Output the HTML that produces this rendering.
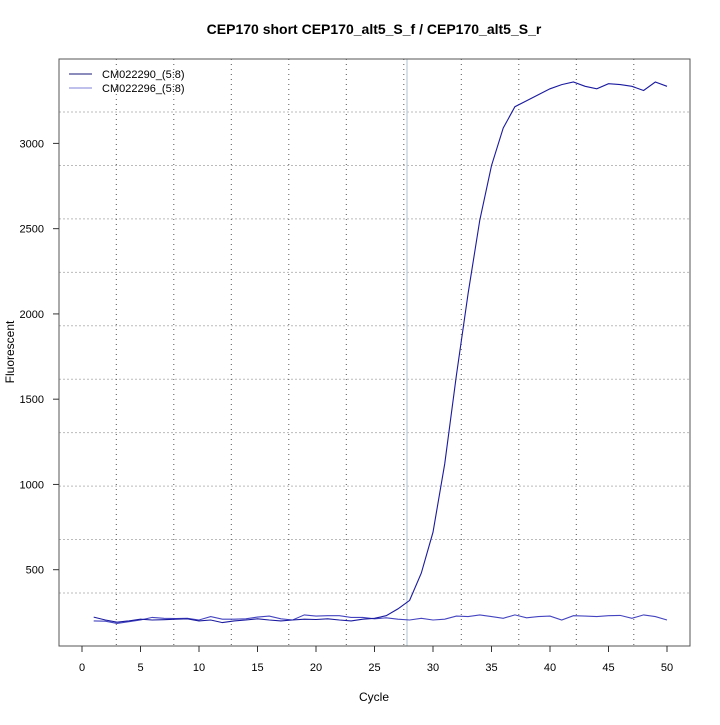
<!DOCTYPE html>
<html><head><meta charset="utf-8"><style>
body{margin:0;background:#fff;}
text{font-family:"Liberation Sans",sans-serif;}
</style></head><body>
<svg id="s" width="720" height="720" xmlns="http://www.w3.org/2000/svg">
<rect width="720" height="720" fill="#fff"/>
<text x="374" y="34" font-size="14" font-weight="bold" text-anchor="middle">CEP170 short CEP170_alt5_S_f / CEP170_alt5_S_r</text>
<g id="grid"></g>
<line x1="407" y1="59" x2="407" y2="646" stroke="#bbcfd8" stroke-width="1.2"/>
<g id="series"></g>
<rect x="59" y="59" width="631" height="587" fill="none" stroke="#555" stroke-width="1"/>
<g id="axes" font-size="11"></g>
<text x="374" y="701" font-size="12" text-anchor="middle">Cycle</text>
<text x="14" y="352" font-size="12" text-anchor="middle" transform="rotate(-90 14 352)">Fluorescent</text>
<line x1="69" y1="74" x2="92" y2="74" stroke="#1a1a7a"/>
<line x1="69" y1="88" x2="92" y2="88" stroke="#8080d8"/>
<text x="102" y="78" font-size="11">CM022290_(5:8)</text>
<text x="102" y="92" font-size="11">CM022296_(5:8)</text>
</svg>
<script>
var NS="http://www.w3.org/2000/svg";
function el(p,t,a,txt){var e=document.createElementNS(NS,t);for(var k in a)e.setAttribute(k,a[k]);if(txt!=null)e.textContent=txt;document.getElementById(p).appendChild(e);}
function X(c){return 82+c*11.7;}
function Y(v){return 569.7-(v-500)*0.17052;}
for(var i=0;i<10;i++){var y=112+i*53.44;el("grid","line",{x1:59,x2:690,y1:y,y2:y,stroke:"#bbb","stroke-dasharray":"2,2"});}
for(var i=0;i<10;i++){var x=116.3+i*57.5;el("grid","line",{x1:x,x2:x,y1:59,y2:646,stroke:"#555","stroke-dasharray":"1,4"});}
for(var c=0;c<=50;c+=5){el("axes","line",{x1:X(c),x2:X(c),y1:646,y2:652,stroke:"#333"});el("axes","text",{x:X(c),y:671,"text-anchor":"middle"},c);}
[500,1000,1500,2000,2500,3000].forEach(function(v){el("axes","line",{x1:53,x2:59,y1:Y(v),y2:Y(v),stroke:"#333"});el("axes","text",{x:44,y:Y(v)+4,"text-anchor":"end"},v);});
var A=[222,205,192,200,210,205,207,210,212,200,205,190,200,205,212,205,200,205,210,208,212,205,200,210,215,230,270,320,480,720,1120,1640,2120,2550,2870,3090,3215,3250,3285,3320,3345,3360,3335,3320,3350,3345,3335,3310,3360,3335];
var B=[200,198,185,195,205,220,215,214,215,205,225,210,210,212,222,228,212,205,235,228,230,230,220,220,212,218,210,205,215,205,210,228,225,235,225,215,235,218,225,228,205,230,228,225,230,232,215,235,225,205];
function pts(d){return d.map(function(v,i){return X(i+1).toFixed(1)+","+Y(v).toFixed(1)}).join(" ");}
el("series","polyline",{points:pts(B),fill:"none",stroke:"#4444c0","stroke-width":1.1});
el("series","polyline",{points:pts(A),fill:"none",stroke:"#1a1aa0","stroke-width":1.1});
</script>
</body></html>
